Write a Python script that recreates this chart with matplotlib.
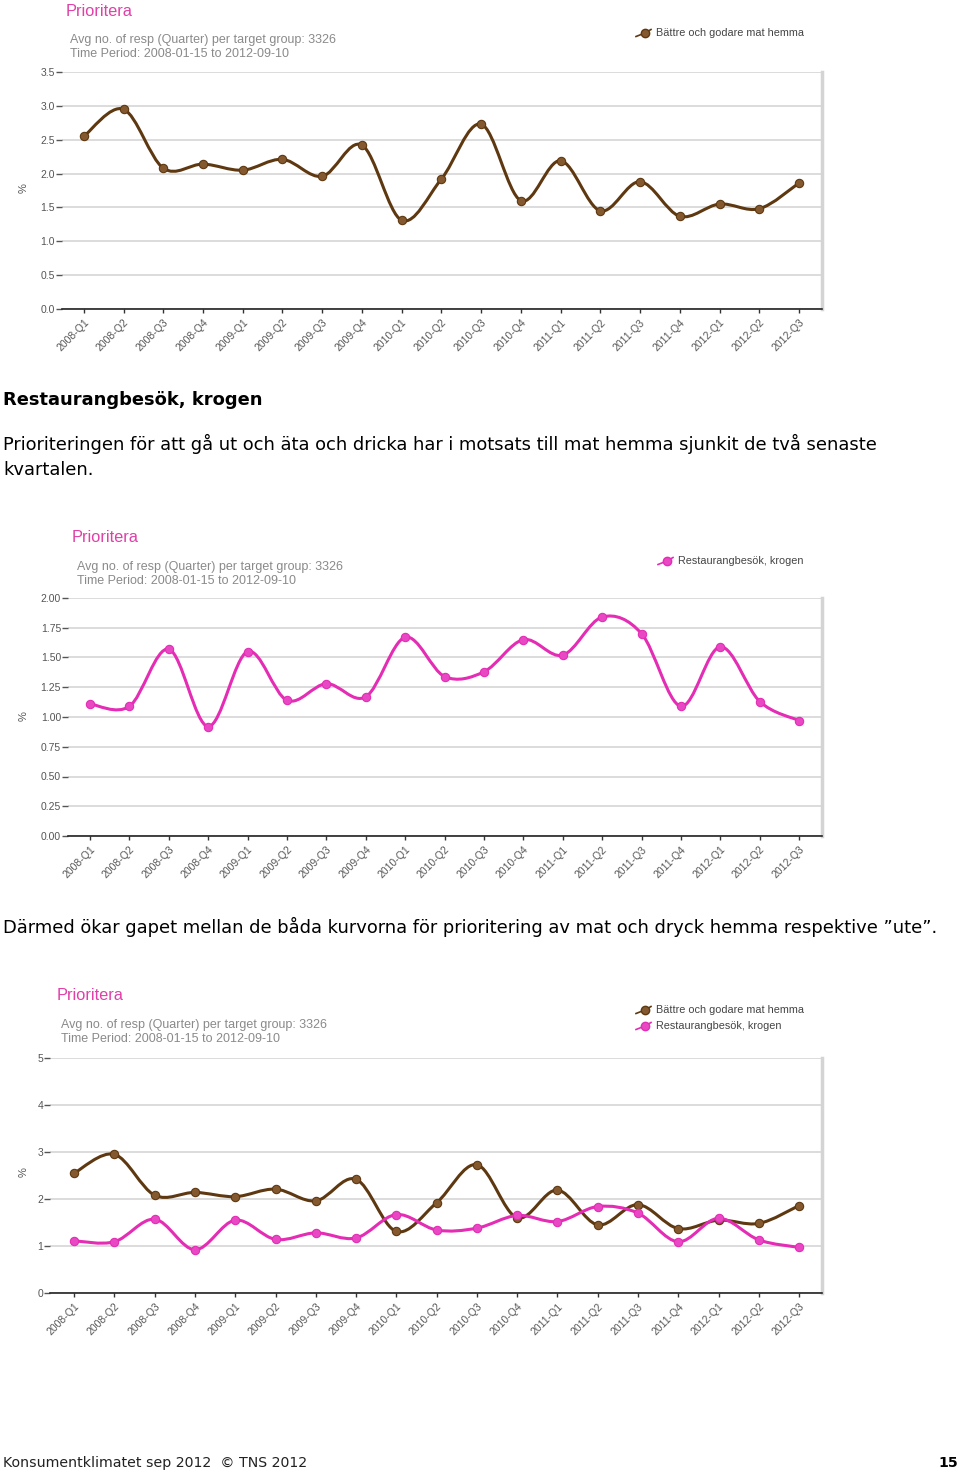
import matplotlib
matplotlib.use("Agg")
from matplotlib import pyplot as plt
from matplotlib.path import Path
from matplotlib.patches import PathPatch
from matplotlib.lines import Line2D
import numpy as np

# quarters on x axis
quarters = ["2008-Q1", "2008-Q2", "2008-Q3", "2008-Q4",
            "2009-Q1", "2009-Q2", "2009-Q3", "2009-Q4",
            "2010-Q1", "2010-Q2", "2010-Q3", "2010-Q4",
            "2011-Q1", "2011-Q2", "2011-Q3", "2011-Q4",
            "2012-Q1", "2012-Q2", "2012-Q3"]

# Bättre och godare mat hemma
mat_hemma = [2.55, 2.95, 2.08, 2.14, 2.05, 2.21, 1.96, 2.42, 1.31, 1.92,
             2.73, 1.60, 2.19, 1.45, 1.88, 1.37, 1.55, 1.48, 1.86]
# Restaurangbesök, krogen
krogen = [1.11, 1.09, 1.57, 0.92, 1.55, 1.14, 1.28, 1.17, 1.67, 1.34,
          1.38, 1.65, 1.52, 1.84, 1.70, 1.09, 1.59, 1.13, 0.97]

name_mat = "Bättre och godare mat hemma"
name_krog = "Restaurangbesök, krogen"
brown = "#5e3810"
brown_fill = "#84592f"
pink = "#e42cb4"
pink_fill = "#e848c4"

W, H = 960, 1473
fig = plt.figure(figsize=(9.6, 14.73), dpi=100)

def fx(x):
    return x / W

def fy(y):
    return 1 - y / H

def smooth_path(xs, ys):
    # catmull-rom style bezier through the points
    pts = np.column_stack([xs, ys]).astype(float)
    ext = np.vstack([pts[0], pts, pts[-1]])
    verts = [pts[0]]
    codes = [Path.MOVETO]
    for i in range(len(pts) - 1):
        p0, p1, p2, p3 = ext[i], ext[i + 1], ext[i + 2], ext[i + 3]
        c1 = p1 + (p2 - p0) / 6
        c2 = p2 - (p3 - p1) / 6
        verts += [c1, c2, p2]
        codes += [Path.CURVE4] * 3
    return Path(verts, codes)

def draw_series(ax, vals, col, fill):
    xs = np.arange(len(vals))
    ax.add_patch(PathPatch(smooth_path(xs, vals), fill=False, edgecolor=col, lw=2.2, zorder=3))
    ax.plot(xs, vals, ls="none", marker="o", ms=6, mfc=fill, mec=col, mew=0.8, zorder=4)

def legend_item(x, y, label, col, fill):
    fig.add_artist(Line2D([fx(x - 9), fx(x), fx(x + 6)], [fy(y + 3.5), fy(y), fy(y - 3.5)],
                          transform=fig.transFigure, color=col, lw=1.2, marker="o",
                          ms=6, mfc=fill, mec=col, markevery=[1]))
    fig.text(fx(x + 11), fy(y), label, fontsize=7.8, color="#444444",
             family="Liberation Sans", va="center", ha="left")

def make_chart(box, xlim, yticks, ylabels, series, title_xy, sub_xy, leg_items, pct_y):
    l, t, r, b = box
    ax = fig.add_axes([fx(l), fy(b), fx(r - l), (b - t) / H])
    for vals, col, fill in series:
        draw_series(ax, vals, col, fill)
    ax.set_xlim(*xlim)
    ax.set_ylim(yticks[0], yticks[-1])
    ax.set_yticks(yticks)
    ax.set_yticklabels(ylabels, fontsize=7.5, color="#555555", family="Liberation Sans")
    ax.set_xticks(range(len(quarters)))
    ax.set_xticklabels(quarters, rotation=45, ha="right", va="top", rotation_mode="anchor",
                       fontsize=7.5, color="#555555", family="Liberation Sans")
    ax.tick_params(axis="y", length=4, width=1, color="#555555", pad=1)
    ax.tick_params(axis="x", length=3, width=1, color="#333333", pad=3)
    ax.grid(axis="y", color="#dcdcdc", lw=1.4)
    ax.set_axisbelow(True)
    for s in ["left", "top"]:
        ax.spines[s].set_visible(False)
    ax.spines["right"].set_color("#d4d4d4")
    ax.spines["right"].set_linewidth(2.5)
    ax.spines["bottom"].set_color("#222222")
    ax.spines["bottom"].set_linewidth(1.2)
    fig.text(fx(title_xy[0]), fy(title_xy[1]), "Prioritera", fontsize=11.8, color="#e040a8",
             family="Liberation Sans", va="center")
    fig.text(fx(sub_xy[0]), fy(sub_xy[1]), "Avg no. of resp (Quarter) per target group: 3326",
             fontsize=9, color="#8a8a8a", family="Liberation Sans", va="center")
    fig.text(fx(sub_xy[0]), fy(sub_xy[1] + 14), "Time Period: 2008-01-15 to 2012-09-10",
             fontsize=9, color="#8a8a8a", family="Liberation Sans", va="center")
    for (x, y, lab, col, fill) in leg_items:
        legend_item(x, y, lab, col, fill)
    fig.text(fx(24), fy(pct_y), "%", rotation=90, fontsize=8, color="#555555",
             family="Liberation Sans", ha="center", va="center")
    return ax

# chart 1
t1 = [0, 0.5, 1.0, 1.5, 2.0, 2.5, 3.0, 3.5]
make_chart((62, 72, 822, 309), (-0.55, 18.58), t1, ["%.1f" % v for v in t1],
           [(mat_hemma, brown, brown_fill)], (66, 11), (70, 40),
           [(645, 33, name_mat, brown, brown_fill)], 188)

# chart 2
t2 = [0, 0.25, 0.5, 0.75, 1.0, 1.25, 1.5, 1.75, 2.0]
make_chart((68, 598, 822, 836), (-0.56, 18.58), t2, ["%.2f" % v for v in t2],
           [(krogen, pink, pink_fill)], (72, 538), (77, 567),
           [(667, 561, name_krog, pink, pink_fill)], 716)

# chart 3
t3 = [0, 1, 2, 3, 4, 5]
make_chart((50, 1058, 822, 1293), (-0.6, 18.57), t3, [str(v) for v in t3],
           [(mat_hemma, brown, brown_fill), (krogen, pink, pink_fill)], (57, 995), (61, 1025),
           [(645, 1010, name_mat, brown, brown_fill), (645, 1026, name_krog, pink, pink_fill)], 1172)

# body text
body_fs = 12.9
fig.text(fx(3), fy(400), "Restaurangbesök, krogen", fontsize=body_fs, fontweight="bold",
         family="DejaVu Sans", va="center")
fig.text(fx(3), fy(444), "Prioriteringen för att gå ut och äta och dricka har i motsats till mat hemma sjunkit de två senaste",
         fontsize=body_fs, family="DejaVu Sans", va="center")
fig.text(fx(3), fy(470), "kvartalen.", fontsize=body_fs, family="DejaVu Sans", va="center")
fig.text(fx(3), fy(927), "Därmed ökar gapet mellan de båda kurvorna för prioritering av mat och dryck hemma respektive ”ute”.",
         fontsize=body_fs, family="DejaVu Sans", va="center")

# footer
fig.text(fx(3), fy(1463), "Konsumentklimatet sep 2012  © TNS 2012", fontsize=10.2,
         family="DejaVu Sans", va="center", color="#222222")
fig.text(fx(958), fy(1463), "15", fontsize=10.2, fontweight="bold", family="DejaVu Sans",
         va="center", ha="right")

fig.savefig("out.png", dpi=100)
